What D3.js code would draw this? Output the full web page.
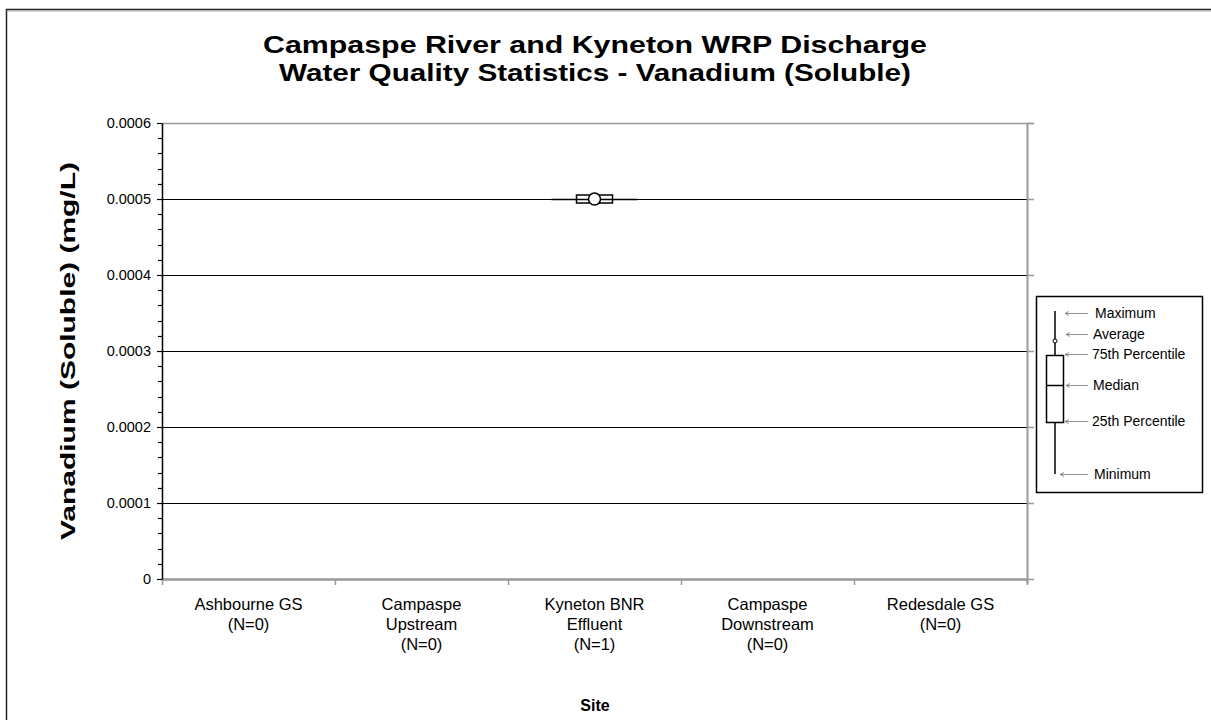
<!DOCTYPE html>
<html><head><meta charset="utf-8">
<script src="https://cdn.jsdelivr.net/npm/d3@7"></script>
<style>body{margin:0;background:#fff;} svg{display:block;font-family:Arial,"Liberation Sans",sans-serif;}</style>
</head><body>
<svg id="c" width="1211" height="720"></svg>
<script>
const sites = ["Ashbourne GS", "Campaspe Upstream", "Kyneton BNR Effluent", "Campaspe Downstream", "Redesdale GS"];
const siteLines = [["Ashbourne GS","(N=0)"],["Campaspe","Upstream","(N=0)"],["Kyneton BNR","Effluent","(N=1)"],["Campaspe","Downstream","(N=0)"],["Redesdale GS","(N=0)"]];
const counts = [0, 0, 1, 0, 0];
const minVals = [null, null, 0.0005, null, null];
const q1Vals = [null, null, 0.0005, null, null];
const medVals = [null, null, 0.0005, null, null];
const q3Vals = [null, null, 0.0005, null, null];
const maxVals = [null, null, 0.0005, null, null];
const meanVals = [null, null, 0.0005, null, null];
const yTicks = [0, 0.0001, 0.0002, 0.0003, 0.0004, 0.0005, 0.0006];
const yTickLabels = ["0", "0.0001", "0.0002", "0.0003", "0.0004", "0.0005", "0.0006"];
const legendLabels = ["Maximum", "Average", "75th Percentile", "Median", "25th Percentile", "Minimum"];

const svg = d3.select("#c");
const L = 162, R = 1027, T = 123, B = 579;

// outer frame (left and top edges)
svg.append("line").attr("x1",6.5).attr("x2",6.5).attr("y1",9).attr("y2",720).attr("stroke","#222").attr("stroke-width",1.5);
svg.append("line").attr("x1",6).attr("x2",1211).attr("y1",9.5).attr("y2",9.5).attr("stroke","#222").attr("stroke-width",1.5);
svg.append("line").attr("x1",8).attr("x2",1211).attr("y1",11).attr("y2",11).attr("stroke","#aaa").attr("stroke-width",1);

const x = d3.scaleBand().domain(sites).range([L, R]).padding(0);
const y = d3.scaleLinear().domain([0, 0.0006]).range([B, T]);

// gridlines
svg.append("g").selectAll("line").data(yTicks.filter(v => v > 0 && v < 0.0006)).join("line")
  .attr("x1", L).attr("x2", R).attr("y1", d => Math.round(y(d)) + 0.5).attr("y2", d => Math.round(y(d)) + 0.5)
  .attr("stroke", "#000").attr("stroke-width", 1);
// top border
svg.append("line").attr("x1",L).attr("x2",R+7).attr("y1",T+0.5).attr("y2",T+0.5).attr("stroke","#999").attr("stroke-width",1.5);
// right border + ticks
svg.append("line").attr("x1",R+0.5).attr("x2",R+0.5).attr("y1",T).attr("y2",B+5).attr("stroke","#999").attr("stroke-width",2);
svg.append("g").selectAll("line").data(yTicks).join("line")
  .attr("x1", R).attr("x2", R+7).attr("y1", d => Math.round(y(d)) + 0.5).attr("y2", d => Math.round(y(d)) + 0.5)
  .attr("stroke", "#999").attr("stroke-width", 1.5);

// bottom axis
const xAxisG = svg.append("g").attr("transform", `translate(0,${B})`);
xAxisG.append("line").attr("x1",L).attr("x2",R).attr("y1",0.5).attr("y2",0.5).attr("stroke","#999").attr("stroke-width",2.5);
const bounds = sites.map(s => x(s)).concat([R]);
xAxisG.selectAll("line.t").data(bounds).join("line").attr("class","t")
  .attr("x1", d => Math.round(d)+0.5).attr("x2", d => Math.round(d)+0.5).attr("y1", 0).attr("y2", 6)
  .attr("stroke", "#999").attr("stroke-width", 1.5);

// category labels
const catG = svg.append("g");
siteLines.forEach((lines, i) => {
  const cx = x(sites[i]) + x.bandwidth()/2;
  const t = catG.append("text").attr("text-anchor","middle").attr("font-size",16.5).attr("fill","#000");
  lines.forEach((ln, j) => t.append("tspan").attr("x", cx).attr("y", 610 + j*20).text(ln));
});

// left axis
const yAxis = d3.axisLeft(y).tickValues(yTicks).tickFormat((d,i) => yTickLabels[i]).tickSize(5).tickSizeOuter(0);
const yG = svg.append("g").attr("transform", `translate(${L},0)`).call(yAxis);
yG.select(".domain").attr("stroke","#000").attr("stroke-width",1.5);
yG.selectAll(".tick line").attr("stroke","#000").attr("stroke-width",1.2);
yG.selectAll(".tick text").attr("font-size",14.5).attr("font-family","Arial, 'Liberation Sans', sans-serif").attr("fill","#000").attr("x",-11);
const minor = d3.range(0, 0.0006 + 1e-12, 0.00002).filter((v,i) => i % 5 !== 0);
yG.append("g").selectAll("line").data(minor).join("line")
  .attr("x1",-4).attr("x2",0).attr("y1", d => Math.round(y(d))+0.5).attr("y2", d => Math.round(y(d))+0.5)
  .attr("stroke","#000").attr("stroke-width",1.2);

// box plots
const bw = 36, capW = 86, minBoxH = 8;
sites.forEach((s, i) => {
  if (counts[i] === 0 || medVals[i] == null) return;
  const cx = x(s) + x.bandwidth()/2;
  const g = svg.append("g");
  g.append("line").attr("x1",cx).attr("x2",cx).attr("y1",y(maxVals[i])).attr("y2",y(minVals[i])).attr("stroke","#000").attr("stroke-width",1.5);
  g.append("line").attr("x1",cx-capW/2).attr("x2",cx+capW/2).attr("y1",y(medVals[i])+0.5).attr("y2",y(medVals[i])+0.5).attr("stroke","#000").attr("stroke-width",1.5);
  let yt = y(q3Vals[i]), yb = y(q1Vals[i]);
  if (yb - yt < minBoxH) { const m = (yt+yb)/2; yt = m - minBoxH/2; yb = m + minBoxH/2; }
  g.append("rect").attr("x",cx-bw/2).attr("y",yt).attr("width",bw).attr("height",yb-yt).attr("fill","#fff").attr("stroke","#000").attr("stroke-width",1.5);
  g.append("line").attr("x1",cx-bw/2).attr("x2",cx+bw/2).attr("y1",y(medVals[i])+0.5).attr("y2",y(medVals[i])+0.5).attr("stroke","#000").attr("stroke-width",1.5);
  g.append("circle").attr("cx",cx).attr("cy",y(meanVals[i])).attr("r",6).attr("fill","#fff").attr("stroke","#000").attr("stroke-width",1.5);
});

// titles
svg.append("text").attr("x",595).attr("y",53).attr("text-anchor","middle").attr("font-size",24).attr("font-weight","bold")
  .attr("textLength",664).attr("lengthAdjust","spacingAndGlyphs").text("Campaspe River and Kyneton WRP Discharge");
svg.append("text").attr("x",595).attr("y",81).attr("text-anchor","middle").attr("font-size",24).attr("font-weight","bold")
  .attr("textLength",632).attr("lengthAdjust","spacingAndGlyphs").text("Water Quality Statistics - Vanadium (Soluble)");
svg.append("text").attr("transform","translate(75,351) rotate(-90)").attr("text-anchor","middle").attr("font-size",20).attr("font-weight","bold")
  .attr("textLength",378).attr("lengthAdjust","spacingAndGlyphs").text("Vanadium (Soluble) (mg/L)");
svg.append("text").attr("x",595).attr("y",711).attr("text-anchor","middle").attr("font-size",16).attr("font-weight","bold").text("Site");

// legend
const lg = svg.append("g");
lg.append("rect").attr("x",1036.5).attr("y",296.5).attr("width",166).attr("height",196).attr("fill","#fff").attr("stroke","#000").attr("stroke-width",1.5);
const lx = 1055;
lg.append("line").attr("x1",lx).attr("x2",lx).attr("y1",311).attr("y2",474).attr("stroke","#000").attr("stroke-width",1.5);
lg.append("rect").attr("x",1046.5).attr("y",355.5).attr("width",17).attr("height",67).attr("fill","#fff").attr("stroke","#000").attr("stroke-width",1.5);
lg.append("line").attr("x1",1047).attr("x2",1063).attr("y1",385.5).attr("y2",385.5).attr("stroke","#000").attr("stroke-width",1.5);
lg.append("circle").attr("cx",lx).attr("cy",341).attr("r",2).attr("fill","#fff").attr("stroke","#000").attr("stroke-width",1);
const legY = [313, 334, 354, 385, 421, 474];
const arrowX1 = [1065, 1066, 1065, 1066, 1065, 1060];
const textX = [1095, 1093, 1092, 1093, 1092, 1094];
legendLabels.forEach((lab, i) => {
  const yy = legY[i];
  lg.append("line").attr("x1",arrowX1[i]).attr("x2",1088).attr("y1",yy+0.5).attr("y2",yy+0.5).attr("stroke","#777").attr("stroke-width",0.8);
  lg.append("path").attr("d",`M${arrowX1[i]},${yy+0.5} l4,-2 M${arrowX1[i]},${yy+0.5} l4,2`).attr("stroke","#777").attr("stroke-width",0.8).attr("fill","none");
  lg.append("text").attr("x",textX[i]).attr("y",yy+5).attr("font-size",14).attr("fill","#000").text(lab);
});
</script>
</body></html>
